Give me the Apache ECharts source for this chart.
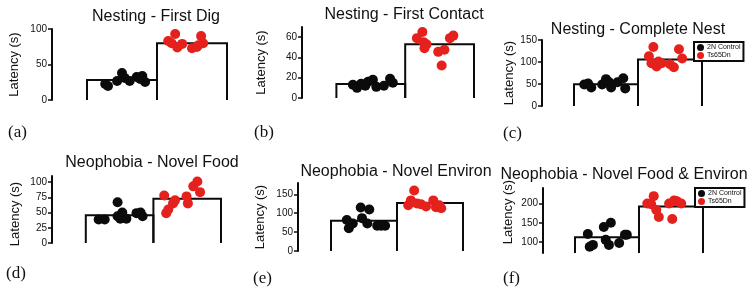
<!DOCTYPE html>
<html>
<head>
<meta charset="utf-8">
<script src="https://cdn.jsdelivr.net/npm/echarts@6/dist/echarts.min.js"></script>
<style>html,body{margin:0;padding:0;background:#fff}#c{width:752px;height:297px}</style>
</head>
<body>
<div id="c"></div>
<script>
// ---------- data ----------
const groups = ['2N Control', 'Ts65Dn'];
const titles = ['Nesting - First Dig', 'Nesting - First Contact', 'Nesting - Complete Nest',
  'Neophobia - Novel Food', 'Neophobia - Novel Environ', 'Neophobia - Novel Food & Environ'];
const panelLabels = ['(a)', '(b)', '(c)', '(d)', '(e)', '(f)'];
const yName = 'Latency (s)';

const meansA = [28, 80];
const meansB = [13.8, 53];
const meansC = [49.5, 105.5];
const meansD = [45.5, 72.5];
const meansE = [80, 127];
const meansF = [113, 192];

// [jitter position, latency]
const ctrlA = [[0.26,22.5],[0.30,19.7],[0.43,26.8],[0.50,38],[0.54,31],[0.61,26.8],[0.71,32.4],[0.79,33.8],[0.83,25.4],[0.76,29.6]];
const tsA   = [[1.16,83],[1.21,80],[1.26,93],[1.29,74],[1.36,79],[1.50,73],[1.57,74.6],[1.63,90],[1.66,80],[1.59,77]];
const ctrlB = [[0.24,13],[0.30,10],[0.36,14],[0.46,16],[0.53,18],[0.58,11],[0.69,12],[0.78,19],[0.82,15],[0.42,12]];
const tsB   = [[1.17,59],[1.25,65],[1.27,55],[1.31,53],[1.28,49],[1.48,45.5],[1.57,47.5],[1.53,32],[1.65,59],[1.70,61.5]];
const ctrlC = [[0.16,49],[0.22,51],[0.27,42],[0.44,49],[0.50,61],[0.55,54],[0.58,42],[0.68,54],[0.77,63],[0.80,40]];
const tsC   = [[1.17,113],[1.21,97],[1.24,134],[1.29,90],[1.32,101],[1.50,95],[1.56,88],[1.64,129],[1.69,108],[1.37,97]];
const ctrlD = [[0.19,38.5],[0.28,38.5],[0.47,67],[0.54,50],[0.51,40],[0.60,40],[0.75,49],[0.81,50],[0.84,44],[0.47,44]];
const tsD   = [[1.16,78],[1.19,49],[1.22,55],[1.29,65],[1.32,70],[1.49,76.5],[1.51,65],[1.59,93],[1.65,101],[1.69,83.5]];
const ctrlE = [[0.24,82],[0.27,60],[0.33,73],[0.45,115],[0.58,110],[0.47,87],[0.55,73],[0.70,67],[0.82,67],[0.76,67]];
const tsE   = [[1.21,134],[1.26,160],[1.30,126],[1.36,124],[1.44,118],[1.55,134],[1.59,116],[1.67,113],[1.64,121],[1.17,121]];
const ctrlF = [[0.20,121],[0.23,88],[0.28,93],[0.45,139],[0.56,150],[0.48,106],[0.53,93],[0.69,98],[0.78,119],[0.81,119]];
const tsF   = [[1.13,200],[1.19,198],[1.23,219],[1.27,183],[1.31,165],[1.52,160],[1.47,200],[1.55,208],[1.59,206],[1.66,200]];

const ticksA = [0, 50, 100];
const ticksB = [0, 20, 40, 60];
const ticksC = [0, 50, 100, 150];
const ticksD = [0, 25, 50, 75, 100];
const ticksE = [0, 50, 100, 150];
const ticksF = [100, 150, 200];

const rangesY = [[0,100],[0,70],[0,150],[0,110],[0,180],[72,240]];

// ---------- layout / style ----------
const SANS = 'Liberation Sans, Arial, Helvetica, sans-serif';
const SERIF = 'Liberation Serif, Times New Roman, serif';
const BLACK = '#0b0b0b';
const RED = '#e5211d';

const panels = [
  {means: meansA, ctrl: ctrlA, ts: tsA, ticks: ticksA, grid: {left: 52, top: 29, width: 175, height: 71}, nameGap: 31, namePad: [0,0,0,0],
   title: {x: 156, y: 9}, label: {x: 8, y: 124}},
  {means: meansB, ctrl: ctrlB, ts: tsB, ticks: ticksB, grid: {left: 302, top: 27, width: 172, height: 71}, nameGap: 34, namePad: [0,0,0,0],
   title: {x: 404, y: 7}, label: {x: 254, y: 124}},
  {means: meansC, ctrl: ctrlC, ts: tsC, ticks: ticksC, grid: {left: 542, top: 40, width: 160, height: 66}, nameGap: 21, namePad: [0,0,0,0],
   title: {x: 638, y: 22}, label: {x: 503, y: 125}, legend: {left: 694, top: 42}},
  {means: meansD, ctrl: ctrlD, ts: tsD, ticks: ticksD, grid: {left: 52, top: 176, width: 169, height: 67}, nameGap: 30, namePad: [0,9,0,0],
   title: {x: 152, y: 155}, label: {x: 6, y: 265}},
  {means: meansE, ctrl: ctrlE, ts: tsE, ticks: ticksE, grid: {left: 298, top: 183, width: 165, height: 68}, nameGap: 31, namePad: [0,0,0,0],
   title: {x: 396, y: 164}, label: {x: 253, y: 270}},
  {means: meansF, ctrl: ctrlF, ts: tsF, ticks: ticksF, grid: {left: 543, top: 188, width: 160, height: 65}, nameGap: 28, namePad: [0,0,0,17],
   title: {x: 624, y: 167}, label: {x: 503, y: 270}, legend: {left: 695, top: 188}}
];

const option = {
  backgroundColor: '#fff',
  animation: false,
  title: [], grid: [], xAxis: [], yAxis: [], series: [], legend: []
};

panels.forEach((p, i) => {
  const yMin = rangesY[i][0], yMax = rangesY[i][1];
  option.title.push({
    text: titles[i], left: p.title.x, top: p.title.y, textAlign: 'center', padding: 0,
    textStyle: {fontFamily: SANS, fontSize: 16, fontWeight: 'normal', color: '#111'}
  });
  option.title.push({
    text: panelLabels[i], left: p.label.x, top: p.label.y, padding: 0,
    textStyle: {fontFamily: SERIF, fontSize: 17, fontWeight: 'normal', color: '#111'}
  });
  option.grid.push(Object.assign({containLabel: false, outerBoundsMode: 'none'}, p.grid));
  option.xAxis.push({type: 'value', gridIndex: i, min: -0.5, max: 2, show: false});
  option.yAxis.push({
    type: 'value', gridIndex: i, min: yMin, max: yMax,
    name: yName, nameLocation: 'middle', nameRotate: 90, nameGap: p.nameGap,
    nameTextStyle: {fontFamily: SANS, fontSize: 13, color: '#111', padding: p.namePad},
    splitLine: {show: false},
    axisLine: {show: true, onZero: false, lineStyle: {color: BLACK, width: 2}},
    axisTick: {show: true, length: 4, customValues: p.ticks, lineStyle: {color: BLACK, width: 1.5}},
    axisLabel: {fontFamily: SANS, fontSize: 10, color: '#111', margin: 5, customValues: p.ticks}
  });
  option.series.push({
    type: 'custom', xAxisIndex: i, yAxisIndex: i, z: 1, silent: true,
    data: p.means.map((m, k) => [k, m]),
    renderItem: (params, api) => {
      const k = api.value(0), v = api.value(1);
      const pts = [api.coord([k, yMin]), api.coord([k, v]), api.coord([k + 1, v]), api.coord([k + 1, yMin])];
      return {type: 'polyline', shape: {points: pts}, style: {stroke: BLACK, lineWidth: 2, fill: null}};
    }
  });
  option.series.push({
    type: 'scatter', name: groups[0], xAxisIndex: i, yAxisIndex: i, z: 3,
    symbol: 'circle', symbolSize: 10, itemStyle: {color: BLACK, opacity: 1}, data: p.ctrl
  });
  option.series.push({
    type: 'scatter', name: groups[1], xAxisIndex: i, yAxisIndex: i, z: 3,
    symbol: 'circle', symbolSize: 10, itemStyle: {color: RED, opacity: 1}, data: p.ts
  });
  if (p.legend) {
    option.legend.push({
      left: p.legend.left, top: p.legend.top, orient: 'vertical', selectedMode: false,
      data: groups, icon: 'circle', itemWidth: 7, itemHeight: 7, itemGap: 1,
      padding: [2, 3, 2, 3], borderColor: BLACK, borderWidth: 2, backgroundColor: '#fff',
      textStyle: {fontFamily: SANS, fontSize: 7, color: '#111', padding: [0, 0, 0, -2]}
    });
  }
});

const chart = echarts.init(document.getElementById('c'), null, {renderer: 'canvas'});
chart.setOption(option);
</script>
</body>
</html>
